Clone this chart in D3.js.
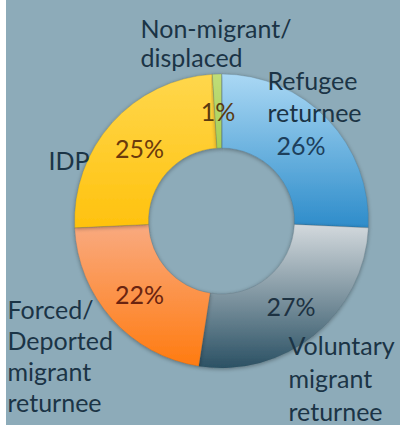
<!DOCTYPE html>
<html><head><meta charset="utf-8">
<script src="https://cdn.jsdelivr.net/npm/d3@7"></script>
<style>
html,body{margin:0;padding:0;background:#fff;}
svg{display:block;}
</style></head>
<body>
<svg id="chart" width="400" height="425"></svg>
<script>
// ---- data ----
const categories = ["Refugee returnee", "Voluntary migrant returnee", "Forced/Deported migrant returnee", "IDP", "Non-migrant/displaced"];
const values = [26, 27, 22, 25, 1];
const labelLines = [["Refugee", "returnee"], ["Voluntary", "migrant", "returnee"], ["Forced/", "Deported", "migrant", "returnee"], ["IDP"], ["Non-migrant/", "displaced"]];
const pctLabels = ["26%", "27%", "22%", "25%", "1%"];

// ---- styles / layout ----
const gradTop = ["#aad8f4", "#d3d9dd", "#f9aa80", "#ffd74c", "#c0dd78"];
const gradBot = ["#2d8cca", "#2b5164", "#ff7b10", "#ffc20e", "#a6cf58"];
const pctColor = ["#1d3f5c", "#1d3242", "#6a2410", "#6b3a0c", "#5a3a10"];
const nameOffsets = [[46, -131], [67, 134], [-214, 98], [-173, -51], [-81, -183]];
const lineH = [32, 33, 31, 31, 29];

const W = 400, H = 425, cx = 221.5, cy = 221, R = 147, r = 73;
const svg = d3.select("#chart");
svg.append("rect").attr("x", 6).attr("y", 0).attr("width", W - 6).attr("height", H).attr("fill", "#8dabb9");

const defs = svg.append("defs");
categories.forEach((c, i) => {
  const g = defs.append("linearGradient").attr("id", "g" + i).attr("x1", 0).attr("y1", 0).attr("x2", 0).attr("y2", 1);
  g.append("stop").attr("offset", "0%").attr("stop-color", gradTop[i]);
  g.append("stop").attr("offset", "100%").attr("stop-color", gradBot[i]);
});
const f = defs.append("filter").attr("id", "sh").attr("x", "-10%").attr("y", "-10%").attr("width", "120%").attr("height", "120%");
f.append("feGaussianBlur").attr("in", "SourceAlpha").attr("stdDeviation", 2).attr("result", "b");
f.append("feOffset").attr("in", "b").attr("dx", 0).attr("dy", 1).attr("result", "o");
f.append("feComponentTransfer").attr("in", "o").attr("result", "o2").append("feFuncA").attr("type", "linear").attr("slope", 0.35);
const fm = f.append("feMerge");
fm.append("feMergeNode").attr("in", "o2");
fm.append("feMergeNode").attr("in", "SourceGraphic");

const pie = d3.pie().sort(null).value(d => d);
const arcs = pie(values);
const arc = d3.arc().innerRadius(r).outerRadius(R);
const labelArc = d3.arc().innerRadius(110).outerRadius(110);

const g = svg.append("g").attr("transform", `translate(${cx},${cy})`);
g.selectAll("path.slice").data(arcs).join("path")
  .attr("class", "slice")
  .attr("d", arc)
  .attr("fill", (d, i) => `url(#g${i})`)
  .attr("stroke", "rgba(60,80,90,0.25)")
  .attr("stroke-width", 0.8)
  .attr("filter", "url(#sh)");

const font = "Lato, 'Open Sans', sans-serif";
g.selectAll("text.pct").data(arcs).join("text")
  .attr("class", "pct")
  .attr("x", d => labelArc.centroid(d)[0])
  .attr("y", d => labelArc.centroid(d)[1])
  .attr("text-anchor", "middle")
  .attr("dominant-baseline", "central")
  .attr("font-family", font)
  .attr("font-size", 25)
  .attr("fill", (d, i) => pctColor[i])
  .text((d, i) => pctLabels[i]);

categories.forEach((c, i) => {
  const t = g.append("text")
    .attr("font-family", font)
    .attr("font-size", 25)
    .attr("fill", "#1b3446");
  labelLines[i].forEach((ln, j) => {
    t.append("tspan").attr("x", nameOffsets[i][0]).attr("y", nameOffsets[i][1] + j * lineH[i]).text(ln);
  });
});
</script>
</body></html>
